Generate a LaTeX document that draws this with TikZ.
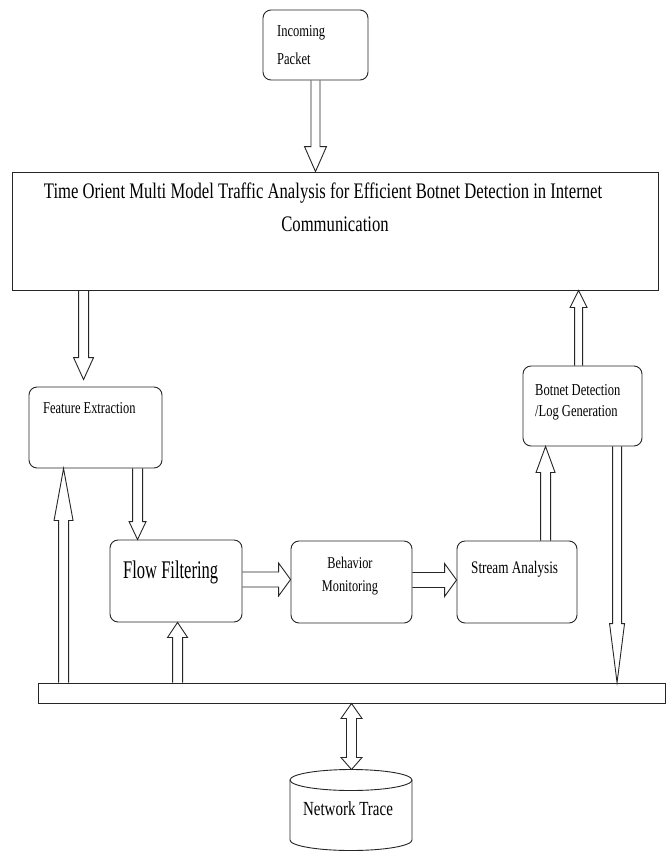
\documentclass[tikz,border=0pt]{standalone}
\usepackage{fontspec}
\setmainfont{Liberation Serif}
\newfontfamily\nf[FakeStretch=0.75]{Liberation Serif}
\newfontfamily\nfn[FakeStretch=0.65]{Liberation Serif}
\usetikzlibrary{calc}
\newcommand\fs[1]{\fontsize{#1}{#1}\selectfont}
\definecolor{ink}{gray}{0.15}
\tikzset{
 box/.style={draw=ink, line width=0.9pt, rounded corners=8pt, inner sep=0pt},
 sqbox/.style={draw=ink, line width=0.9pt, inner sep=0pt},
 barrow/.style={draw=ink, line width=0.9pt, line join=miter},
 lbl/.style={inner sep=0pt, anchor=base west, text=black},
 lblc/.style={inner sep=0pt, anchor=base, text=black},
}
% vertical block arrow: start, end, head length, shaft half, head half
\newcommand\barrowV[5]{\draw[barrow] let \p1=(#1), \p2=(#1|-#2), \n1={sign(\y2-\y1)*#3} in
 ({\x1-#4},\y1) -- ({\x1-#4},{\y2-(\n1)}) -- ({\x1-#5},{\y2-(\n1)}) -- (\x2,\y2) -- ({\x1+#5},{\y2-(\n1)}) -- ({\x1+#4},{\y2-(\n1)}) -- ({\x1+#4},\y1);}
% horizontal block arrow
\newcommand\barrowH[5]{\draw[barrow] let \p1=(#1), \p2=(#2|-#1), \n1={sign(\x2-\x1)*#3} in
 (\x1,{\y1-#4}) -- ({\x2-(\n1)},{\y1-#4}) -- ({\x2-(\n1)},{\y1-#5}) -- (\x2,\y1) -- ({\x2-(\n1)},{\y1+#5}) -- ({\x2-(\n1)},{\y1+#4}) -- (\x1,{\y1+#4});}
% double-headed vertical block arrow
\newcommand\barrowVV[6]{\draw[barrow] let \p1=(#1), \p2=(#1|-#2), \n1={sign(\y2-\y1)*#3}, \n2={sign(\y2-\y1)*#4} in
 (\x1,\y1) -- ({\x1-#6},{\y1+(\n1)}) -- ({\x1-#5},{\y1+(\n1)}) -- ({\x1-#5},{\y2-(\n2)}) -- ({\x1-#6},{\y2-(\n2)}) -- (\x2,\y2) -- ({\x1+#6},{\y2-(\n2)}) -- ({\x1+#5},{\y2-(\n2)}) -- ({\x1+#5},{\y1+(\n1)}) -- ({\x1+#6},{\y1+(\n1)}) -- cycle;}
\begin{document}
\begin{tikzpicture}[x=1pt,y=-1pt]
\useasboundingbox (0,0) rectangle (672,852);
\fill[white] (0,0) rectangle (672,852);
\clip (0,0) rectangle (672,852);
% boxes
\node[box, minimum width=105pt, minimum height=70pt] (inc) at (315.5,45) {};
\node[sqbox, minimum width=646pt, minimum height=118pt] (main) at (335,231) {};
\node[box, minimum width=133pt, minimum height=81pt] (fe) at (95.5,427.5) {};
\node[box, minimum width=132pt, minimum height=82pt] (ff) at (176,581) {};
\node[box, minimum width=121pt, minimum height=82pt] (bm) at (351.5,582) {};
\node[box, minimum width=120pt, minimum height=82pt] (sa) at (517,582) {};
\node[box, minimum width=119pt, minimum height=80pt] (bd) at (582.5,406) {};
\node[sqbox, minimum width=627pt, minimum height=20pt] (bus) at (351.5,693) {};
% cylinder
\draw[draw=ink, line width=0.9pt] (351,780) ellipse [x radius=61, y radius=10.5];
\draw[draw=ink, line width=0.9pt] (290,780) -- (290,840) arc[start angle=180, end angle=0, x radius=61, y radius=10.5] -- (412,780);
\coordinate (cyl) at (351.5,769.5);
% texts
\node[lbl] (inct1) at (277,36) {\nf\fs{16.7}Incoming};
\node[lbl] (inct2) at (277,64) {\nf\fs{16.7}Packet};
\node[lblc] (mt1) at (323,198) {\nf\fs{22.2}Time Orient Multi Model Traffic Analysis for Efficient Botnet Detection in Internet};
\node[lblc] (mt2) at (335,231) {\nf\fs{22.2}Communication};
\node[lbl] (fet) at (43,413) {\nf\fs{16.6}Feature Extraction};
\node[lbl] (fft) at (123,578) {\nfn\fs{25.4}Flow Filtering};
\node[lblc] (bmt1) at (350,568) {\nf\fs{16.4}Behavior};
\node[lblc] (bmt2) at (350,591) {\nf\fs{16.4}Monitoring};
\node[lbl] (sat) at (471,573) {\nf\fs{17.6}Stream Analysis};
\node[lbl] (bdt1) at (535,395) {\nf\fs{16.7}Botnet Detection};
\node[lbl] (bdt2) at (535,416) {\nf\fs{16.7}/Log Generation};
\node[lblc] (nt) at (348,815) {\nf\fs{20}Network Trace};
% arrow anchor coordinates
\coordinate (a2s) at ($(main.south west)+(72,0)$);
\coordinate (a2e) at ($(fe.north)+(0,-7)$);
\coordinate (a3s) at ($(bus.north west)+(26,0)$);
\coordinate (a4s) at ($(fe.south west)+(109,0)$);
\coordinate (a5s) at ($(bus.north west)+(140,0)$);
\coordinate (a6s) at ($(ff.east)+(0,-1.5)$);
\coordinate (a7s) at ($(bm.east)+(0,-2)$);
\coordinate (a8s) at ($(sa.north west)+(89,0)$);
\coordinate (a9s) at ($(bd.north west)+(56,0)$);
\coordinate (a10s) at ($(bd.south west)+(94.5,0)$);
% arrows
\barrowV{inc.south}{main.north}{25}{4.5}{11}
\barrowV{a2s}{a2e}{22}{5}{10}
\barrowV{a3s}{fe.south}{52}{5}{9.5}
\barrowV{a4s}{ff.north}{18}{5}{8.5}
\barrowV{a5s}{ff.south}{15}{5}{10}
\barrowH{a6s}{bm.west}{12}{7.5}{16.5}
\barrowH{a7s}{sa.west}{12}{7.5}{16.5}
\barrowV{a8s}{bd.south}{26}{5}{9.5}
\barrowV{a9s}{main.south}{17}{4}{8.5}
\barrowV{a10s}{bus.north}{59}{4.5}{7.5}
\barrowVV{bus.south}{cyl}{15}{12}{5}{10.5}
\end{tikzpicture}
\end{document}
